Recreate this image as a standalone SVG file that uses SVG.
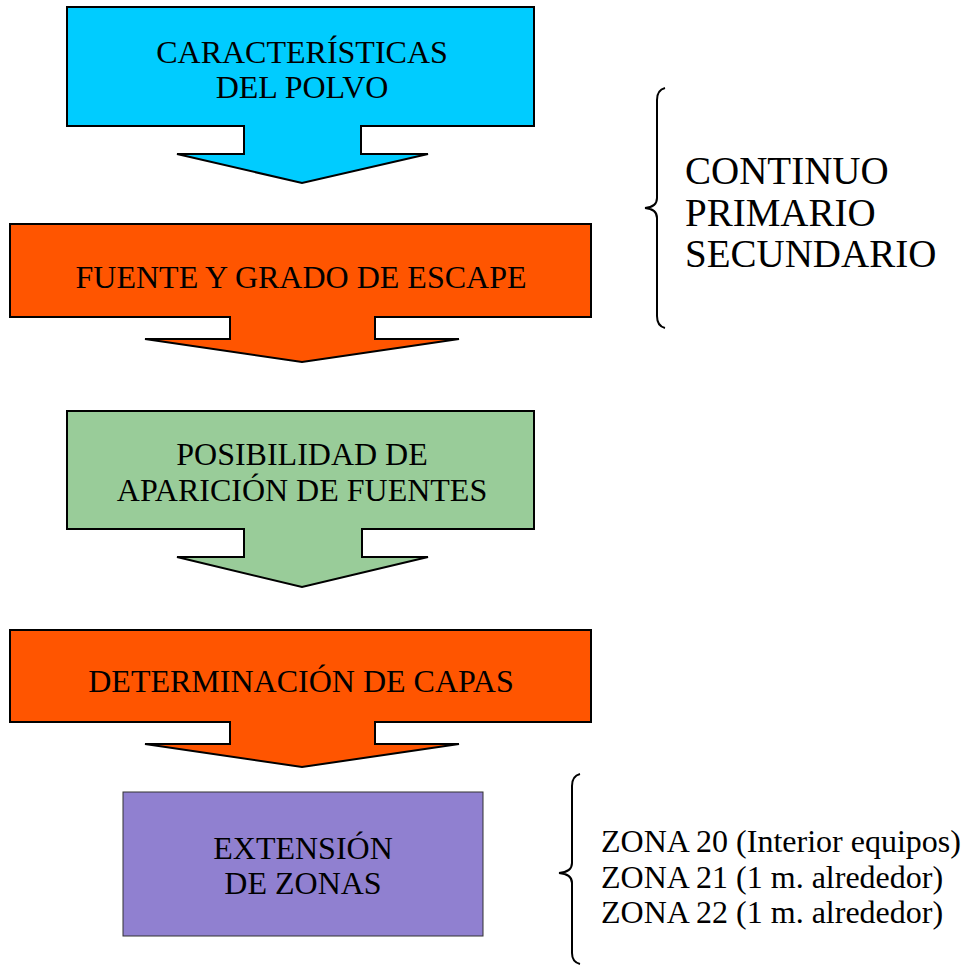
<svg xmlns="http://www.w3.org/2000/svg" width="970" height="968" viewBox="0 0 970 968">
<style>
.shape{stroke:#000;stroke-width:2;stroke-linejoin:miter}
text{font-family:'Liberation Serif','DejaVu Serif','Times New Roman',Times,serif}
.t{font-size:32px;fill:#000;text-anchor:middle}
.side{fill:#000}
.brace{fill:none;stroke:#000;stroke-width:2}
</style>
<rect width="970" height="968" fill="#fff"/>
<g id="caracteristicas">
<path class="shape" fill="#00CCFF" d="M67,7 H534 V126 H361 V154 H428 L302,183 L177,154 H244 V126 H67 Z"/>
<text class="t" x="302" y="63">CARACTERÍSTICAS</text>
<text class="t" x="302" y="98">DEL POLVO</text>
</g>
<g id="fuente">
<path class="shape" fill="#FF5500" d="M10,224 H591 V317 H375 V339 H459 L302,362 L145,339 H230 V317 H10 Z"/>
<text class="t" x="301" y="288">FUENTE Y GRADO DE ESCAPE</text>
</g>
<g id="posibilidad">
<path class="shape" fill="#99CC99" d="M67,411 H534 V529 H362 V557 H428 L302,587 L177,557 H244 V529 H67 Z"/>
<text class="t" x="302" y="465">POSIBILIDAD DE</text>
<text class="t" x="302" y="501">APARICIÓN DE FUENTES</text>
</g>
<g id="capas">
<path class="shape" fill="#FF5500" d="M10,630 H591 V722 H375 V744 H459 L302,767 L145,744 H230 V722 H10 Z"/>
<text class="t" x="301" y="692">DETERMINACIÓN DE CAPAS</text>
</g>
<g id="extension">
<rect x="123" y="792" width="360" height="144" fill="#9080D0" stroke="#333" stroke-width="1"/>
<text class="t" x="303" y="859">EXTENSIÓN</text>
<text class="t" x="303" y="894">DE ZONAS</text>
</g>
<g id="escape-tipos">
<path class="brace" d="M665,88 Q657,90 657,100 L657,198 Q657,207 645,208 Q657,209 657,218 L657,316 Q657,326 665,328"/>
<text class="side" font-size="39" x="685" y="184">CONTINUO</text>
<text class="side" font-size="39" x="685" y="226">PRIMARIO</text>
<text class="side" font-size="39" x="685" y="267">SECUNDARIO</text>
</g>
<g id="zonas">
<path class="brace" d="M580,774 Q572,776 572,786 L572,863 Q572,872 559,873 Q572,874 572,883 L572,953 Q572,962 580,964"/>
<text class="side" font-size="32" x="601" y="852">ZONA 20 (Interior equipos)</text>
<text class="side" font-size="32" x="601" y="888">ZONA 21 (1 m. alrededor)</text>
<text class="side" font-size="32" x="601" y="923">ZONA 22 (1 m. alrededor)</text>
</g>
<g id="connectors"></g>
</svg>
